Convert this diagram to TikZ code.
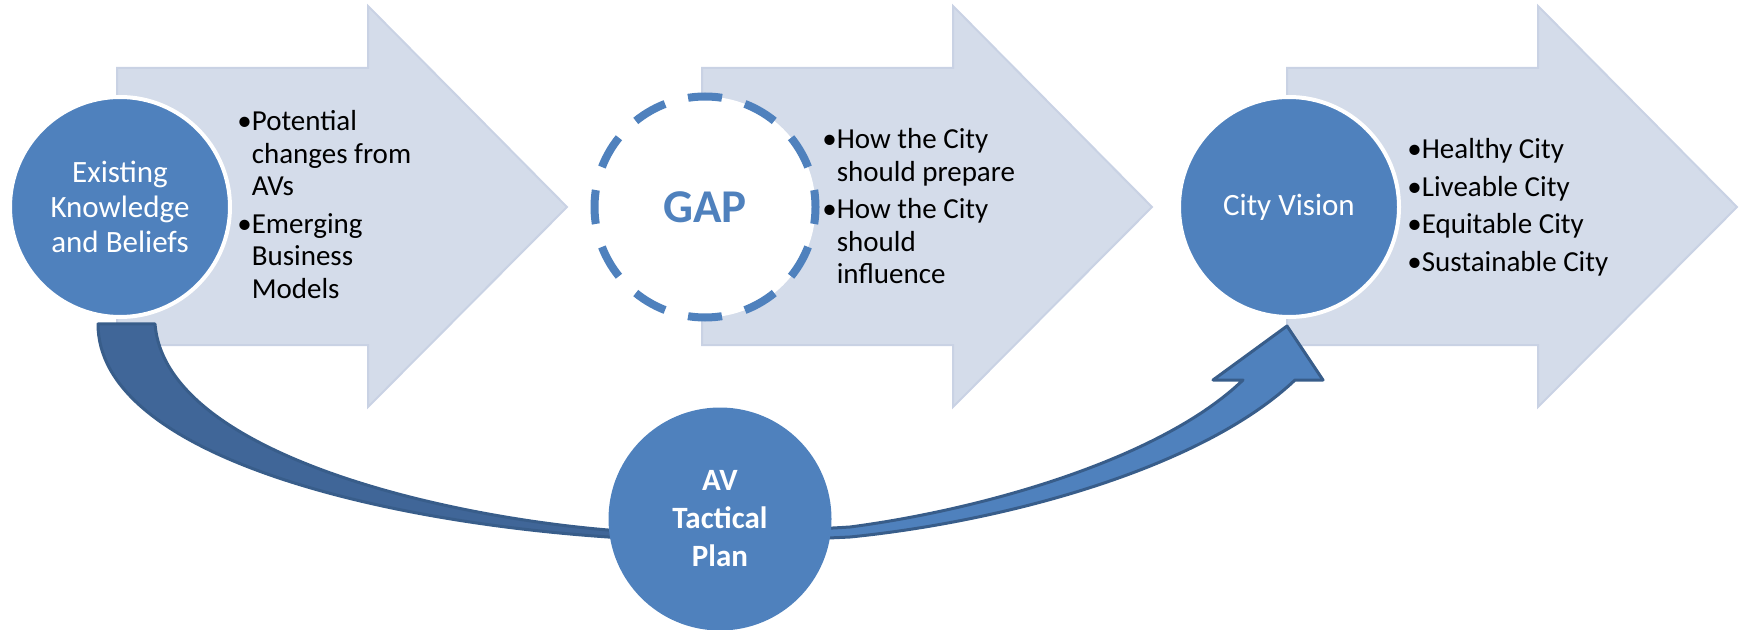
\documentclass[tikz,border=0pt]{standalone}
\usepackage{fontspec}
\setmainfont{Carlito}
\definecolor{acc}{RGB}{79,129,189}
\definecolor{accdark}{RGB}{64,102,152}
\definecolor{accline}{RGB}{56,93,138}
\definecolor{pale}{RGB}{212,220,234}
\definecolor{paleline}{RGB}{201,210,228}
\begin{document}
\begin{tikzpicture}[x=0.5pt,y=-0.5pt,
  bigarrow/.style={fill=pale,draw=paleline,line width=1pt,line join=miter},
  disc/.style={circle,fill=acc,draw=white,line width=2pt,inner sep=0pt,minimum size=110pt,text=white,align=center,font=\fontsize{15.5}{17.5}\selectfont},
  bul/.style={anchor=base west,inner sep=0pt,font=\fontsize{14.5}{16.25}\selectfont,text=black}]
\useasboundingbox (0,0) rectangle (1743,630);
% light block arrows
\foreach \dx in {0,585,1170}
  \draw[bigarrow] ({117+\dx},68) -- ({368+\dx},68) -- ({368+\dx},6) -- ({567+\dx},207)
     -- ({368+\dx},407) -- ({368+\dx},345) -- ({117+\dx},345) -- cycle;
% curved block arrow
\def\avpath{(98,324) .. controls (98,450) and (360,520) .. (608,537)
  .. controls (690,541) and (770,541) .. (850,537)
  .. controls (1000,522) and (1200,470) .. (1295,380)
  -- (1323,380) -- (1287,326) -- (1213,380) -- (1243,380)
  .. controls (1160,460) and (980,510) .. (850,527)
  .. controls (770,532) and (680,533) .. (608,530)
  .. controls (430,515) and (165,450) .. (155,324) -- cycle}
\fill[acc] \avpath;
\begin{scope}
  \clip (0,0) rectangle (720,630);
  \fill[accdark] \avpath;
\end{scope}
\draw[accline,line width=1.5pt,line join=round] \avpath;
% circles
\node[disc] (know) at (120,207) {Existing\\Knowledge\\and Beliefs};
\node[circle,draw=acc,fill=white,line width=4pt,dash pattern=on 17pt off 11.93pt,dash phase=8.5pt,
      minimum size=110.5pt,inner sep=0pt,text=acc,font=\bfseries\fontsize{23.5}{28}\selectfont] (gap) at (705,207) {GAP};
\node[disc] (vision) at (1289,207) {City Vision};
\node[disc,draw=none,minimum size=111.5pt,font=\bfseries\fontsize{15.5}{19}\selectfont] (plan) at (720,519) {AV\\Tactical\\Plan};
% bullet texts
\node[bul] (l1) at (237,131) {\begin{tabular}[t]{@{}l@{}l@{}}•&Potential\\&changes from\\&AVs\\[2.5pt]•&Emerging\\&Business\\&Models\end{tabular}};
\node[bul] (l2) at (822,149) {\begin{tabular}[t]{@{}l@{}l@{}}•&How the City\\&should prepare\\[2.5pt]•&How the City\\&should\\&influence\end{tabular}};
\node[bul] (l3) at (1407,159) {\begin{tabular}[t]{@{}l@{}l@{}}•&Healthy City\\[2.5pt]•&Liveable City\\[2.5pt]•&Equitable City\\[2.5pt]•&Sustainable City\end{tabular}};
\end{tikzpicture}
\end{document}
